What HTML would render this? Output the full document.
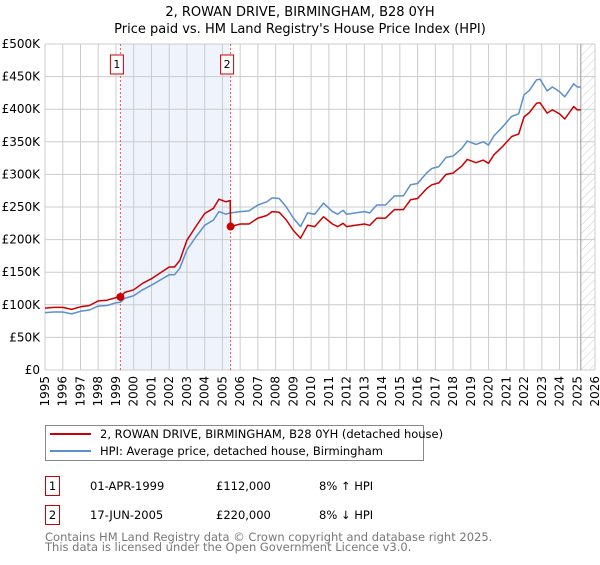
<!DOCTYPE html>
<html><head><meta charset="utf-8"><style>
body{margin:0;background:#fff;width:600px;height:560px;overflow:hidden;font-family:"Liberation Sans","DejaVu Sans",sans-serif}
svg text{font-family:"DejaVu Sans","Liberation Sans",sans-serif}
</style></head><body>
<svg id="c" width="600" height="560" xmlns="http://www.w3.org/2000/svg">
<text x="300" y="16" text-anchor="middle" font-size="13">2, ROWAN DRIVE, BIRMINGHAM, B28 0YH</text>
<text x="300" y="33" text-anchor="middle" font-size="13">Price paid vs. HM Land Registry's House Price Index (HPI)</text>
<g id="plot"></g>
<rect x="45.5" y="425.5" width="378" height="35" fill="#fff" stroke="#888"/>
<line x1="50" y1="434" x2="91" y2="434" stroke="#cc0000" stroke-width="2"/>
<text x="100" y="438" font-size="11.5">2, ROWAN DRIVE, BIRMINGHAM, B28 0YH (detached house)</text>
<line x1="50" y1="451" x2="91" y2="451" stroke="#5b8fd0" stroke-width="2"/>
<text x="100" y="455" font-size="11.5">HPI: Average price, detached house, Birmingham</text>
<g font-size="11.5">
<rect x="45.5" y="476.5" width="14" height="19" fill="#fff" stroke="#cc0000"/>
<text x="52.5" y="490" text-anchor="middle">1</text>
<text x="90" y="490">01-APR-1999</text>
<text x="216" y="490">£112,000</text>
<text x="319" y="490">8% ↑ HPI</text>
<rect x="45.5" y="505.5" width="14" height="19" fill="#fff" stroke="#cc0000"/>
<text x="52.5" y="519" text-anchor="middle">2</text>
<text x="90" y="519">17-JUN-2005</text>
<text x="216" y="519">£220,000</text>
<text x="319" y="519">8% ↓ HPI</text>
</g>
<text x="45" y="541" font-size="11.5" fill="#777">Contains HM Land Registry data © Crown copyright and database right 2025.</text>
<text x="45" y="551" font-size="11.5" fill="#777">This data is licensed under the Open Government Licence v3.0.</text>
</svg>
<script>
const yearTicks=[1995,1996,1997,1998,1999,2000,2001,2002,2003,2004,2005,2006,2007,2008,2009,2010,2011,2012,2013,2014,2015,2016,2017,2018,2019,2020,2021,2022,2023,2024,2025,2026];
const priceTicks=[0,50,100,150,200,250,300,350,400,450,500];
const priceLabels=["£0","£50K","£100K","£150K","£200K","£250K","£300K","£350K","£400K","£450K","£500K"];
const dates=[1995.0,1995.5,1996.0,1996.5,1997.0,1997.5,1998.0,1998.5,1999.0,1999.25,1999.5,2000.0,2000.5,2001.0,2001.5,2002.0,2002.3,2002.6,2003.0,2003.5,2004.0,2004.5,2004.8,2005.2,2005.44,2005.46,2006.0,2006.5,2007.0,2007.5,2007.8,2008.2,2008.6,2009.0,2009.4,2009.8,2010.2,2010.7,2011.2,2011.5,2011.8,2012.0,2012.5,2013.0,2013.3,2013.7,2014.2,2014.7,2015.2,2015.6,2016.0,2016.5,2016.8,2017.2,2017.6,2018.0,2018.5,2018.8,2019.3,2019.7,2020.0,2020.3,2020.8,2021.3,2021.7,2022.0,2022.3,2022.7,2022.9,2023.3,2023.6,2024.0,2024.3,2024.8,2025.0,2025.2];
const hpiValues=[88,89,89,86,90,92,98,99,103,104,110,114,123,130,138,146,146,156,184,204,222,230,243,239,241,241,243,244,253,258,264,263,250,233,220,241,239,256,243,239,245,239,241,243,241,253,253,267,267,284,286,302,309,312,326,328,340,351,346,350,345,359,373,389,393,422,429,445,446,428,434,427,419,439,434,434];
const propertyValues=[95,96,96,93,97,99,106,107,111,112,119,123,133,140,149,158,158,168,199,220,240,248,262,258,260,220,224,224,233,237,243,242,230,214,202,222,220,235,224,220,225,220,222,224,222,233,233,246,246,261,263,278,284,287,300,302,313,323,318,322,317,330,343,358,362,388,395,409,410,394,399,393,385,404,399,399];
const saleDates=[1999.25,2005.46];
const salePrices=[112,220];
const saleLabels=["1","2"];
const dataEnd=2025.2;

const X0=45,X1=595,Y0=370,Y1=44;
const x=y=>X0+(y-1995)/(2026-1995)*(X1-X0);
const yv=v=>Y0-v/500*(Y0-Y1);
const NS="http://www.w3.org/2000/svg";
const g=document.getElementById('plot');
function mk(t,a){const e=document.createElementNS(NS,t);for(const k in a)e.setAttribute(k,a[k]);g.appendChild(e);return e;}

let e=mk('rect',{x:x(saleDates[0]),y:Y1,width:x(saleDates[1])-x(saleDates[0]),height:Y0-Y1,fill:'#eef3fc'});


yearTicks.forEach(t=>{
 const l=mk('line',{x1:x(t),x2:x(t),y1:Y1,y2:Y0,stroke:'#ccc','stroke-width':1});
 
 
 const tx=mk('text',{x:0,y:0,'font-size':12,'text-anchor':'end',transform:`translate(${x(t)+4},376) rotate(-90)`});
 tx.textContent=t;
 
 
});
priceTicks.forEach((t,i)=>{
 const l=mk('line',{x1:X0,x2:X1,y1:yv(t),y2:yv(t),stroke:'#ccc','stroke-width':1});
 
 
 const tx=mk('text',{x:40,y:yv(t)+4,'font-size':12,'text-anchor':'end'});
 tx.textContent=priceLabels[i];
 
 
});
const defs=mk('defs',{});
defs.innerHTML='<pattern id="h" width="6" height="6" patternUnits="userSpaceOnUse" patternTransform="rotate(45)"><line x1="0" y1="0" x2="0" y2="6" stroke="#ccc" stroke-width="1"/></pattern>';
e=mk('rect',{x:x(dataEnd),y:Y1,width:X1-x(dataEnd),height:Y0-Y1,fill:'url(#h)'});


e=mk('line',{x1:x(dataEnd),x2:x(dataEnd),y1:Y1,y2:Y0,stroke:'#999','stroke-width':1});



saleDates.forEach((d,i)=>{
 const l=mk('line',{x1:x(d),x2:x(d),y1:Y1,y2:Y0,stroke:'#e55','stroke-width':1,'stroke-dasharray':'2,2'});
 
 
 const r=mk('rect',{x:x(d)-10,y:55,width:13,height:19,fill:'#fff',stroke:'#cc0000'});
 
 
 const t=mk('text',{x:x(d)-3.5,y:68,'font-size':11,'text-anchor':'middle'});
 t.textContent=saleLabels[i];
 
 
});
function path(vals,col,name){
 const p=mk('path',{d:dates.map((d,i)=>(i?'L':'M')+x(d).toFixed(1)+' '+yv(vals[i]).toFixed(1)).join(''),fill:'none',stroke:col,'stroke-width':1.5,'stroke-linejoin':'round'});
 
 
}
path(hpiValues,'#5b8fd0','hpi-line');
path(propertyValues,'#cc0000','property-line');
saleDates.forEach((d,i)=>{
 const c=mk('circle',{cx:x(d),cy:yv(salePrices[i]),r:4,fill:'#cc0000'});
 
 
});
</script>
</body></html>
